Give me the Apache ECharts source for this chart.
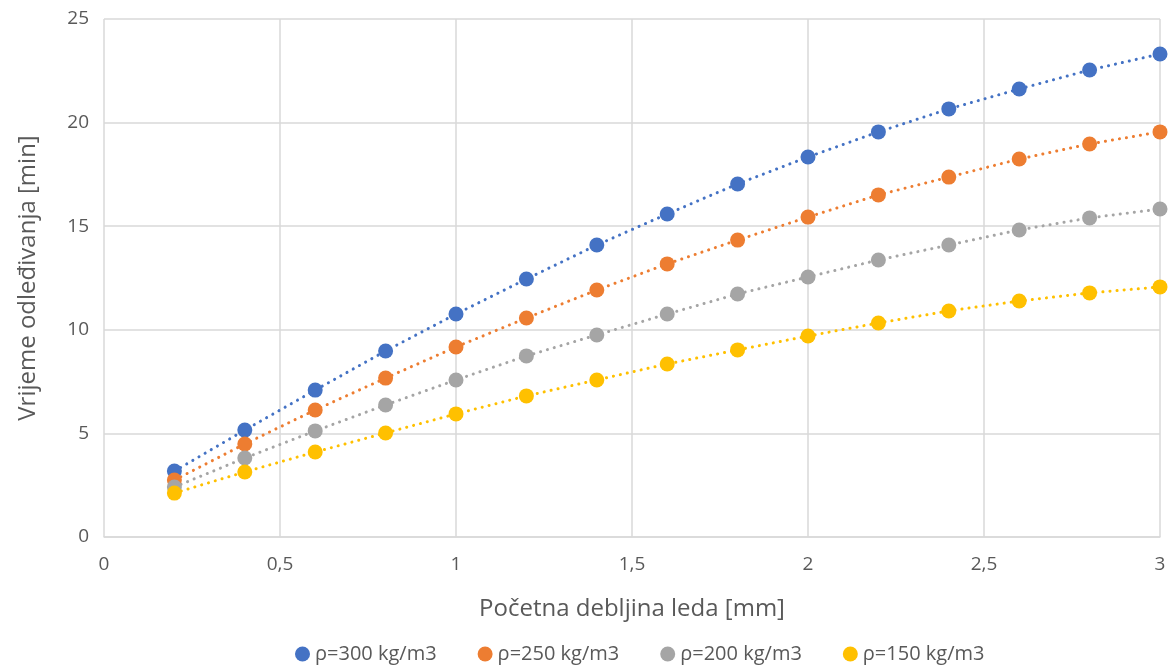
<!DOCTYPE html>
<html><head><meta charset="utf-8">
<script src="https://cdn.jsdelivr.net/npm/echarts@6/dist/echarts.min.js"></script>
<style>html,body{margin:0;padding:0;background:#fff}#c{width:1170px;height:668px}</style>
</head><body><div id="c"></div>
<script>
const xValues = [0.2,0.4,0.6,0.8,1.0,1.2,1.4,1.6,1.8,2.0,2.2,2.4,2.6,2.8,3.0];
const seriesNames = ['ρ=300 kg/m3','ρ=250 kg/m3','ρ=200 kg/m3','ρ=150 kg/m3'];
const rho300 = [3.18,5.16,7.09,8.98,10.76,12.45,14.09,15.59,17.04,18.34,19.55,20.66,21.62,22.54,23.31];
const rho250 = [2.75,4.49,6.13,7.67,9.17,10.57,11.92,13.18,14.33,15.44,16.51,17.37,18.24,18.97,19.55];
const rho200 = [2.41,3.81,5.12,6.37,7.58,8.74,9.75,10.76,11.73,12.55,13.37,14.09,14.82,15.40,15.83];
const rho150 = [2.12,3.14,4.10,5.02,5.94,6.81,7.58,8.35,9.03,9.70,10.33,10.91,11.39,11.78,12.07];
const colors = ['#4472C4','#ED7D31','#A5A5A5','#FFC000'];
const allData = [rho300, rho250, rho200, rho150];

const chart = echarts.init(document.getElementById('c'));
const font = '"Open Sans", "Noto Sans", sans-serif';
chart.setOption({
  animation:false,
  textStyle:{fontFamily:font},
  grid:{left:104,right:10,top:19,bottom:131,containLabel:false},
  xAxis:{type:'value',min:0,max:3,interval:0.5,
    name:'Početna debljina leda [mm]',nameLocation:'middle',nameGap:60,
    nameTextStyle:{fontSize:24,color:'#595959',fontFamily:font},
    axisLine:{show:true,lineStyle:{color:'#D9D9D9',width:1.5}},
    axisTick:{show:false},
    axisLabel:{fontSize:19,color:'#595959',margin:18,fontFamily:font,formatter:v=>String(v).replace('.',',')},
    splitLine:{show:true,lineStyle:{color:'#D9D9D9',width:1.5}}},
  yAxis:{type:'value',min:0,max:25,interval:5,
    name:'Vrijeme odleđivanja [min]',nameLocation:'middle',nameGap:64,nameRotate:90,
    nameTextStyle:{fontSize:24,color:'#595959',fontFamily:font},
    axisLine:{show:false},axisTick:{show:false},
    axisLabel:{fontSize:19,color:'#595959',margin:15,fontFamily:font},
    splitLine:{show:true,lineStyle:{color:'#D9D9D9',width:1.5}}},
  legend:{top:639,left:290,itemGap:41,icon:'circle',itemWidth:15,itemHeight:15,
    textStyle:{fontSize:20,color:'#595959',fontFamily:font},
    data:seriesNames},
  series: seriesNames.map((n,i)=>({
    name:n,type:'line',symbol:'circle',symbolSize:15,
    data:xValues.map((x,j)=>[x,allData[i][j]]),
    itemStyle:{color:colors[i]},
    lineStyle:{color:colors[i],width:3,type:[0.1,7],cap:'round'}
  }))
});
</script></body></html>
